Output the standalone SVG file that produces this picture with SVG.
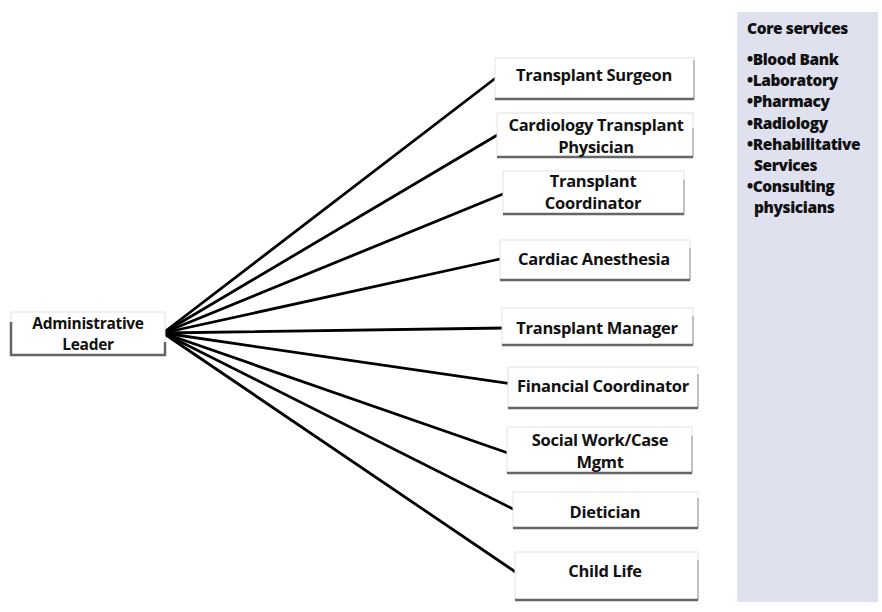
<svg xmlns="http://www.w3.org/2000/svg" width="882" height="612" viewBox="0 0 882 612">
<style>
.box{fill:#fff;stroke:#e2e2e2;stroke-width:1}
.bot{stroke:#666;stroke-width:2.5;fill:none}
.side{stroke:#a8a8a8;stroke-width:1.3;fill:none}
.t{font-family:"Open Sans","Liberation Sans",sans-serif;font-weight:bold;font-size:16.5px;fill:#111;text-anchor:middle;letter-spacing:-0.3px}
.a{font-size:15.5px}
.p{font-family:"Open Sans","Liberation Sans",sans-serif;font-weight:800;font-size:15.5px;fill:#111;letter-spacing:-0.4px}
.c{stroke:#000;stroke-width:2.8;fill:none;stroke-linecap:round}
</style>
<rect width="882" height="612" fill="#fff"/>
<g id="core-services">
<rect x="737" y="12" width="141" height="590" fill="#dfe1ef"/>
<text class="p" x="747" y="34">Core services</text>
<text class="p" x="747" y="65">•Blood Bank</text>
<text class="p" x="747" y="86">•Laboratory</text>
<text class="p" x="747" y="107">•Pharmacy</text>
<text class="p" x="747" y="129">•Radiology</text>
<text class="p" x="747" y="150">•Rehabilitative</text>
<text class="p" x="754" y="171">Services</text>
<text class="p" x="747" y="192">•Consulting</text>
<text class="p" x="754" y="213">physicians</text>
</g>
<g id="connectors">
<line class="c" x1="163" y1="333" x2="497" y2="77"/>
<line class="c" x1="163" y1="333" x2="499" y2="134"/>
<line class="c" x1="163" y1="333" x2="503" y2="194"/>
<line class="c" x1="163" y1="333" x2="500" y2="259"/>
<line class="c" x1="163" y1="333" x2="505" y2="328"/>
<line class="c" x1="163" y1="333" x2="512" y2="384"/>
<line class="c" x1="163" y1="333" x2="508" y2="453"/>
<line class="c" x1="163" y1="333" x2="515" y2="510"/>
<line class="c" x1="163" y1="333" x2="517" y2="573"/>
</g>
<g id="admin">
<rect class="box" x="11" y="312" width="154" height="43" stroke="none"/>
<path class="bot" d="M11 322 V355 H165 V342"/>
<text class="t a" x="88" y="329">Administrative</text>
<text class="t a" x="88" y="350">Leader</text>
</g>
<g id="surgeon">
<rect class="box" x="495" y="58" width="199" height="41"/>
<path class="side" d="M694 60 V99"/>
<path class="bot" d="M495 99 H694"/>
<text class="t" x="594" y="81">Transplant Surgeon</text>
</g>
<g id="cardiology">
<rect class="box" x="497" y="113" width="196" height="44"/>
<path class="side" d="M693 128 V157"/>
<path class="bot" d="M497 157 H693"/>
<text class="t" x="596" y="131">Cardiology Transplant</text>
<text class="t" x="596" y="153">Physician</text>
</g>
<g id="coordinator">
<rect class="box" x="503" y="171" width="181" height="43"/>
<path class="side" d="M684 180 V214"/>
<path class="bot" d="M503 214 H684"/>
<text class="t" x="593" y="187">Transplant</text>
<text class="t" x="593" y="209">Coordinator</text>
</g>
<g id="anesthesia">
<rect class="box" x="500" y="240" width="190" height="40"/>
<path class="side" d="M690 248 V280"/>
<path class="bot" d="M500 280 H690"/>
<text class="t" x="594" y="265">Cardiac Anesthesia</text>
</g>
<g id="manager">
<rect class="box" x="502" y="308" width="191" height="37"/>
<path class="side" d="M693 316 V345"/>
<path class="bot" d="M502 345 H693"/>
<text class="t" x="597" y="334">Transplant Manager</text>
</g>
<g id="financial">
<rect class="box" x="508" y="367" width="190" height="41"/>
<path class="side" d="M698 374 V408"/>
<path class="bot" d="M508 408 H698"/>
<text class="t" x="603" y="392">Financial Coordinator</text>
</g>
<g id="social">
<rect class="box" x="507" y="427" width="185" height="46"/>
<path class="side" d="M692 436 V473"/>
<path class="bot" d="M507 473 H692"/>
<text class="t" x="600" y="446">Social Work/Case</text>
<text class="t" x="600" y="468">Mgmt</text>
</g>
<g id="dietician">
<rect class="box" x="513" y="492" width="185" height="36"/>
<path class="side" d="M698 498 V528"/>
<path class="bot" d="M513 528 H698"/>
<text class="t" x="605" y="518">Dietician</text>
</g>
<g id="childlife">
<rect class="box" x="515" y="552" width="183" height="48"/>
<path class="side" d="M698 560 V600"/>
<path class="bot" d="M515 600 H698"/>
<text class="t" x="605" y="577">Child Life</text>
</g>
</svg>
